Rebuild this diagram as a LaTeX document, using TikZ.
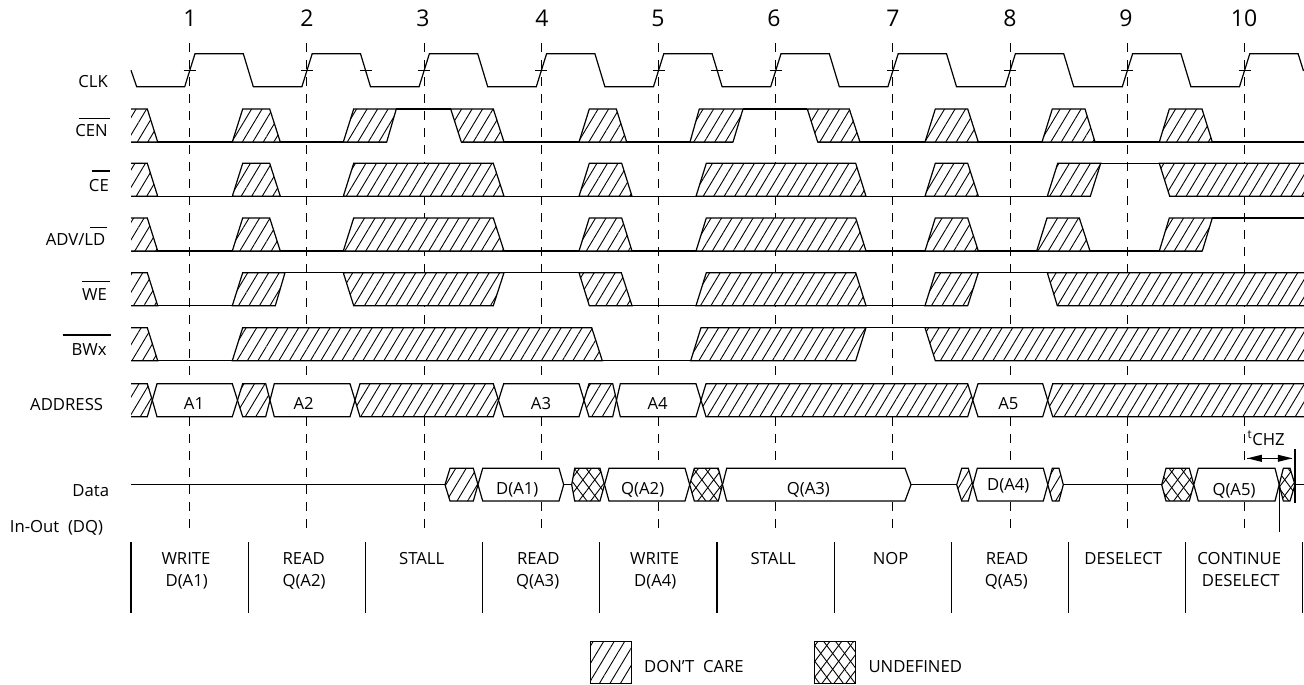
\documentclass[tikz,border=0pt]{standalone}
\usepackage{fontspec}
\setmainfont{Open Sans}
\usetikzlibrary{patterns.meta}

\begin{document}
\begin{tikzpicture}[x=1pt,y=1pt]
	\tikzstyle{every node}+=[inner sep=0pt,font=\fontsize{16.7}{18}\selectfont]
	\tikzstyle{wire}=[black,line width=1.2pt]
	\tikzstyle{edgeline}=[black,line width=1pt,dash pattern=on 9pt off 8pt]
	\tikzstyle{dontcare}=[wire,preaction={fill=white},pattern={Lines[angle=59,distance=9pt,line width=0.9pt]}]
	\tikzstyle{undefinedbox}=[wire,preaction={fill=white},pattern={Lines[angle=53,distance=9.5pt,line width=0.9pt]},postaction={pattern={Lines[angle=127,distance=9.5pt,line width=0.9pt]}}]
	\tikzstyle{validbox}=[wire,fill=white]
	\tikzstyle{cyclenum}=[anchor=base,font=\fontsize{23}{25}\selectfont]
	\tikzstyle{signame}=[anchor=base east]
	\tikzstyle{boxtext}=[anchor=base]
	\tikzstyle{optext}=[anchor=base]
	\useasboundingbox (0,0) rectangle (1304,-685);
	% clock edges
	\draw [edgeline] (189.7,-43.3) -- (189.7,-530.7);
	\draw [edgeline] (306.9,-43.3) -- (306.9,-530.7);
	\draw [edgeline] (424.1,-43.3) -- (424.1,-530.7);
	\draw [edgeline] (541.3,-43.3) -- (541.3,-530.7);
	\draw [edgeline] (658.5,-43.3) -- (658.5,-530.7);
	\draw [edgeline] (775.7,-43.3) -- (775.7,-530.7);
	\draw [edgeline] (892.9,-43.3) -- (892.9,-530.7);
	\draw [edgeline] (1010.1,-43.3) -- (1010.1,-530.7);
	\draw [edgeline] (1127.3,-43.3) -- (1127.3,-530.7);
	\draw [edgeline] (1244.5,-43.3) -- (1244.5,-530.7);
	\node [cyclenum] (num1) at (190,-26.7) {1};
	\node [cyclenum] (num2) at (307,-26.7) {2};
	\node [cyclenum] (num3) at (423,-26.7) {3};
	\node [cyclenum] (num4) at (542,-26.7) {4};
	\node [cyclenum] (num5) at (658,-26.7) {5};
	\node [cyclenum] (num6) at (774,-26.7) {6};
	\node [cyclenum] (num7) at (893,-26.7) {7};
	\node [cyclenum] (num8) at (1010,-26.7) {8};
	\node [cyclenum] (num9) at (1126,-26.7) {9};
	\node [cyclenum] (num10) at (1244,-26.7) {10};
	% CLK
	\draw [wire] (131,-70.3) -- (136.7,-86.7) -- (184.7,-86.7) -- (195,-53.7) -- (243.3,-53.7) -- (253.3,-86.7)
		-- (301.9,-86.7) -- (312.2,-53.7) -- (360.5,-53.7) -- (370.5,-86.7)
		-- (419.1,-86.7) -- (429.4,-53.7) -- (477.7,-53.7) -- (487.7,-86.7)
		-- (536.3,-86.7) -- (546.6,-53.7) -- (594.9,-53.7) -- (604.9,-86.7)
		-- (653.5,-86.7) -- (663.8,-53.7) -- (712.1,-53.7) -- (722.1,-86.7)
		-- (770.7,-86.7) -- (781,-53.7) -- (829.3,-53.7) -- (839.3,-86.7)
		-- (887.9,-86.7) -- (898.2,-53.7) -- (946.5,-53.7) -- (956.5,-86.7)
		-- (1005.1,-86.7) -- (1015.4,-53.7) -- (1063.7,-53.7) -- (1073.7,-86.7)
		-- (1122.3,-86.7) -- (1132.6,-53.7) -- (1180.9,-53.7) -- (1190.9,-86.7)
		-- (1239.5,-86.7) -- (1249.8,-53.7) -- (1298.1,-53.7) -- (1303.5,-71);
	\draw [wire] (183.7,-70.3) -- (195.7,-70.3);
	\draw [wire] (300.9,-70.3) -- (312.9,-70.3);
	\draw [wire] (359.5,-70.3) -- (371.5,-70.3);
	\draw [wire] (418.1,-70.3) -- (430.1,-70.3);
	\draw [wire] (535.3,-70.3) -- (547.3,-70.3);
	\draw [wire] (652.5,-70.3) -- (664.5,-70.3);
	\draw [wire] (711.1,-70.3) -- (723.1,-70.3);
	\draw [wire] (769.7,-70.3) -- (781.7,-70.3);
	\draw [wire] (886.9,-70.3) -- (898.9,-70.3);
	\draw [wire] (1004.1,-70.3) -- (1016.1,-70.3);
	\draw [wire] (1121.3,-70.3) -- (1133.3,-70.3);
	\draw [wire] (1238.5,-70.3) -- (1250.5,-70.3);
	\node [signame] (lclk) at (108,-87.3) {CLK};
	% CEN
	\draw [wire] (131,-142) -- (386.7,-142);
	\draw [wire] (461.3,-142) -- (733,-142);
	\draw [wire] (817.7,-142) -- (1304,-142);
	\draw [wire] (396.3,-109) -- (450.7,-109);
	\draw [wire] (743,-109) -- (807.3,-109);
	\draw [dontcare] (131,-109) -- (147.3,-109) -- (157.7,-142) -- (131,-142);
	\draw [dontcare] (232.3,-142) -- (242.7,-109) -- (269.7,-109) -- (280.3,-142) -- cycle;
	\draw [dontcare] (343.3,-142) -- (353.7,-109) -- (396.3,-109) -- (386.7,-142) -- cycle;
	\draw [dontcare] (450.7,-109) -- (493.3,-109) -- (504,-142) -- (461.3,-142) -- cycle;
	\draw [dontcare] (579,-142) -- (589.3,-109) -- (616.3,-109) -- (626.7,-142) -- cycle;
	\draw [dontcare] (690,-142) -- (699.3,-109) -- (743,-109) -- (733,-142) -- cycle;
	\draw [dontcare] (807.3,-109) -- (849.3,-109) -- (860,-142) -- (817.7,-142) -- cycle;
	\draw [dontcare] (925,-142) -- (935.3,-109) -- (967.7,-109) -- (978.3,-142) -- cycle;
	\draw [dontcare] (1042,-142) -- (1052.3,-109) -- (1085,-109) -- (1095,-142) -- cycle;
	\draw [dontcare] (1159.3,-142) -- (1169.3,-109) -- (1202,-109) -- (1212.3,-142) -- cycle;
	\node [signame] (lcen) at (108,-136.7) {CEN};
	\draw [wire] (78.7,-118.3) -- (109.7,-118.3);
	% CE
	\draw [wire] (131,-196.3) -- (1090.3,-196.3);
	\draw [wire] (1100.7,-163.3) -- (1159.3,-163.3);
	\draw [dontcare] (131,-163.3) -- (147.3,-163.3) -- (157.7,-196.3) -- (131,-196.3);
	\draw [dontcare] (232.3,-196.3) -- (242.7,-163.3) -- (269.7,-163.3) -- (280.3,-196.3) -- cycle;
	\draw [dontcare] (343.3,-196.3) -- (353.7,-163.3) -- (493.3,-163.3) -- (504,-196.3) -- cycle;
	\draw [dontcare] (579,-196.3) -- (589.3,-163.3) -- (621.7,-163.3) -- (632,-196.3) -- cycle;
	\draw [dontcare] (696,-196.3) -- (706.3,-163.3) -- (855.7,-163.3) -- (866,-196.3) -- cycle;
	\draw [dontcare] (925,-196.3) -- (935.3,-163.3) -- (967.7,-163.3) -- (978.3,-196.3) -- cycle;
	\draw [dontcare] (1047.3,-196.3) -- (1057.7,-163.3) -- (1100.7,-163.3) -- (1090.3,-196.3) -- cycle;
	\draw [dontcare] (1304,-163.3) -- (1159.3,-163.3) -- (1169.7,-196.3) -- (1304,-196.3);
	\node [signame] (lce) at (109,-191) {CE};
	\draw [wire] (91.7,-171) -- (110.3,-171);
	% ADV/LD
	\draw [wire] (131,-251) -- (1202.3,-251);
	\draw [wire] (1212.3,-218) -- (1304,-218);
	\draw [dontcare] (131,-218) -- (147.3,-218) -- (157.7,-251) -- (131,-251);
	\draw [dontcare] (232.3,-251) -- (242.7,-218) -- (269.7,-218) -- (280.3,-251) -- cycle;
	\draw [dontcare] (343.3,-251) -- (353.7,-218) -- (493.3,-218) -- (504,-251) -- cycle;
	\draw [dontcare] (579,-251) -- (589.3,-218) -- (621.7,-218) -- (632,-251) -- cycle;
	\draw [dontcare] (696,-251) -- (706.3,-218) -- (855.7,-218) -- (866,-251) -- cycle;
	\draw [dontcare] (925,-251) -- (935.3,-218) -- (967.7,-218) -- (978.3,-251) -- cycle;
	\draw [dontcare] (1036.7,-251) -- (1047,-218) -- (1079.3,-218) -- (1090,-251) -- cycle;
	\draw [dontcare] (1159.3,-251) -- (1169.3,-218) -- (1212.3,-218) -- (1202.3,-251) -- cycle;
	\node [signame] (ladv) at (105.5,-245.7) {ADV/LD};
	\draw [wire] (90,-227.3) -- (107.3,-227.3);
	% WE
	\draw [wire] (131,-305.7) -- (275.3,-305.7);
	\draw [wire] (285,-272.7) -- (343.3,-272.7);
	\draw [wire] (504,-272.7) -- (579,-272.7);
	\draw [wire] (589.3,-305.7) -- (967.7,-305.7);
	\draw [wire] (978.3,-272.7) -- (1047.3,-272.7);
	\draw [dontcare] (131,-272.7) -- (147.3,-272.7) -- (157.7,-305.7) -- (131,-305.7);
	\draw [dontcare] (232.3,-305.7) -- (242.7,-272.7) -- (285,-272.7) -- (275.3,-305.7) -- cycle;
	\draw [dontcare] (343.3,-272.7) -- (504,-272.7) -- (493.3,-305.7) -- (353.7,-305.7) -- cycle;
	\draw [dontcare] (579,-272.7) -- (621.3,-272.7) -- (632,-305.7) -- (589.3,-305.7) -- cycle;
	\draw [dontcare] (696,-305.7) -- (706.3,-272.7) -- (855.7,-272.7) -- (866,-305.7) -- cycle;
	\draw [dontcare] (925,-305.7) -- (935.3,-272.7) -- (978.3,-272.7) -- (967.7,-305.7) -- cycle;
	\draw [dontcare] (1304,-272.7) -- (1047.3,-272.7) -- (1057.3,-305.7) -- (1304,-305.7);
	\node [signame] (lwe) at (107,-300) {WE};
	\draw [wire] (82.3,-281.3) -- (110,-281.3);
	% BWx
	\draw [wire] (131,-360.7) -- (232.3,-360.7);
	\draw [wire] (602.3,-360.7) -- (690.7,-360.7);
	\draw [wire] (866,-327.7) -- (925,-327.7);
	\draw [dontcare] (131,-327.7) -- (147.3,-327.7) -- (157.7,-360.7) -- (131,-360.7);
	\draw [dontcare] (232.3,-360.7) -- (242.7,-327.7) -- (591.7,-327.7) -- (602.3,-360.7) -- cycle;
	\draw [dontcare] (690.7,-360.7) -- (701,-327.7) -- (866,-327.7) -- (855.7,-360.7) -- cycle;
	\draw [dontcare] (1304,-327.7) -- (925,-327.7) -- (935.3,-360.7) -- (1304,-360.7);
	\node [signame] (lbwx) at (106.7,-355) {BWx};
	\draw [wire,line width=1.4pt] (62.7,-335) -- (111,-335);
	% ADDRESS
	\draw [dontcare] (131,-383.7) -- (147.3,-383.7) -- (152.3,-400.2) -- (147.3,-416.7) -- (131,-416.7);
	\draw [validbox] (152.3,-400.2) -- (157,-383.7) -- (232.3,-383.7) -- (237.5,-400.2) -- (232.3,-416.7) -- (157,-416.7) -- cycle;
	\draw [dontcare] (237.5,-400.2) -- (242.7,-383.7) -- (265.7,-383.7) -- (270,-400.2) -- (265.7,-416.7) -- (242.7,-416.7) -- cycle;
	\draw [validbox] (270,-400.2) -- (274.3,-383.7) -- (350,-383.7) -- (355,-400.2) -- (350,-416.7) -- (274.3,-416.7) -- cycle;
	\draw [dontcare] (355,-400.2) -- (360,-383.7) -- (493.3,-383.7) -- (498.5,-400.2) -- (493.3,-416.7) -- (360,-416.7) -- cycle;
	\draw [validbox] (498.5,-400.2) -- (503.7,-383.7) -- (579,-383.7) -- (584,-400.2) -- (579,-416.7) -- (503.7,-416.7) -- cycle;
	\draw [dontcare] (584,-400.2) -- (589,-383.7) -- (612.7,-383.7) -- (616.5,-400.2) -- (612.7,-416.7) -- (589,-416.7) -- cycle;
	\draw [validbox] (616.5,-400.2) -- (620.3,-383.7) -- (696,-383.7) -- (701,-400.2) -- (696,-416.7) -- (620.3,-416.7) -- cycle;
	\draw [dontcare] (701,-400.2) -- (706,-383.7) -- (967.7,-383.7) -- (972.8,-400.2) -- (967.7,-416.7) -- (706,-416.7) -- cycle;
	\draw [validbox] (972.8,-400.2) -- (978,-383.7) -- (1042.7,-383.7) -- (1047.7,-400.2) -- (1042.7,-416.7) -- (978,-416.7) -- cycle;
	\draw [dontcare] (1304,-383.7) -- (1052.7,-383.7) -- (1047.7,-400.2) -- (1052.7,-416.7) -- (1304,-416.7);
	\node [signame] (laddr) at (103.3,-410.7) {ADDRESS};
	\node [boxtext] (ba1) at (194,-409) {A1};
	\node [boxtext] (ba2) at (303.7,-409) {A2};
	\node [boxtext] (ba3) at (541,-409) {A3};
	\node [boxtext] (ba4) at (657.7,-409) {A4};
	\node [boxtext] (ba5) at (1008.3,-409) {A5};
	% Data
	\draw [wire] (131,-484.7) -- (445,-484.7);
	\draw [wire] (563.7,-484.7) -- (571.7,-484.7);
	\draw [wire] (911,-484.7) -- (956.7,-484.7);
	\draw [wire] (1063.3,-484.7) -- (1161.7,-484.7);
	\draw [wire] (1295,-484.7) -- (1304,-484.7);
	\draw [dontcare] (445,-484.7) -- (450,-468.3) -- (473.3,-468.3) -- (478,-484.7) -- (473.3,-501) -- (450,-501) -- cycle;
	\draw [validbox] (478,-484.7) -- (482.7,-468.3) -- (559,-468.3) -- (563.7,-484.7) -- (559,-501) -- (482.7,-501) -- cycle;
	\draw [undefinedbox] (571.7,-484.7) -- (574.7,-468.3) -- (600,-468.3) -- (604.5,-484.7) -- (600,-501) -- (574.7,-501) -- cycle;
	\draw [validbox] (604.5,-484.7) -- (609,-468.3) -- (685,-468.3) -- (689.7,-484.7) -- (685,-501) -- (609,-501) -- cycle;
	\draw [undefinedbox] (689.7,-484.7) -- (694.3,-468.3) -- (718.3,-468.3) -- (722.5,-484.7) -- (718.3,-501) -- (694.3,-501) -- cycle;
	\draw [validbox] (722.5,-484.7) -- (726.7,-468.3) -- (905,-468.3) -- (911,-484.7) -- (905,-501) -- (726.7,-501) -- cycle;
	\draw [dontcare] (956.7,-484.7) -- (961.7,-468.3) -- (968.3,-468.3) -- (972.8,-484.7) -- (968.3,-501) -- (961.7,-501) -- cycle;
	\draw [validbox] (972.8,-484.7) -- (977.3,-468.3) -- (1043.3,-468.3) -- (1047.8,-484.7) -- (1043.3,-501) -- (977.3,-501) -- cycle;
	\draw [dontcare] (1047.8,-484.7) -- (1052.3,-468.3) -- (1059,-468.3) -- (1063.3,-484.7) -- (1059,-501) -- (1052.3,-501) -- cycle;
	\draw [undefinedbox] (1161.7,-484.7) -- (1166,-468.3) -- (1189.3,-468.3) -- (1193.8,-484.7) -- (1189.3,-501) -- (1166,-501) -- cycle;
	\draw [validbox] (1193.8,-484.7) -- (1198.3,-468.3) -- (1275,-468.3) -- (1279.2,-484.7) -- (1275,-501) -- (1198.3,-501) -- cycle;
	\draw [undefinedbox] (1279.2,-484.7) -- (1283.3,-468.3) -- (1290,-468.3) -- (1295,-484.7) -- (1290,-501) -- (1283.3,-501) -- cycle;
	\node [signame] (ldata) at (109.3,-496) {Data};
	\node [signame] (linout) at (103.3,-532.7) {In-Out\ \ (DQ)};
	\node [boxtext] (bd1) at (517.3,-494) {D(A1)};
	\node [boxtext] (bq2) at (642.7,-494) {Q(A2)};
	\node [boxtext] (bq3) at (808.3,-494) {Q(A3)};
	\node [boxtext] (bd4) at (1008.3,-490.7) {D(A4)};
	\node [boxtext] (bq5) at (1234,-495) {Q(A5)};
	% tCHZ
	\coordinate (chzleft) at (1247.3,-458.3);
	\coordinate (chzright) at (1292.3,-458.3);
	\draw [wire] (chzleft) -- (chzright);
	\fill [black] (chzleft) -- +(14.5,3.6) -- +(14.5,-3.6);
	\fill [black] (chzright) -- +(-14.5,3.6) -- +(-14.5,-3.6);
	\draw [wire] (1295,-449) -- (1295,-502.7);
	\draw [wire] (1279.2,-484.7) -- (1279.2,-531.7);
	\node [anchor=base west] (ltchz) at (1247.5,-445) {\textsuperscript{t}CHZ};
	% operations
	\draw [wire] (131,-542) -- (131,-612.7);
	\draw [wire] (248.3,-542) -- (248.3,-612.7);
	\draw [wire] (365.7,-542) -- (365.7,-612.7);
	\draw [wire] (482.7,-542) -- (482.7,-612.7);
	\draw [wire] (599.7,-542) -- (599.7,-612.7);
	\draw [wire] (717,-542) -- (717,-612.7);
	\draw [wire] (834.3,-542) -- (834.3,-612.7);
	\draw [wire] (951.3,-542) -- (951.3,-612.7);
	\draw [wire] (1068.7,-542) -- (1068.7,-612.7);
	\draw [wire] (1185.7,-542) -- (1185.7,-612.7);
	\draw [wire] (1302.7,-542) -- (1302.7,-612.7);
	\node [optext] (opa) at (186,-564) {WRITE};
	\node [optext] (opb) at (186.7,-586) {D(A1)};
	\node [optext] (opc) at (303.7,-564) {READ};
	\node [optext] (opd) at (304,-586) {Q(A2)};
	\node [optext] (ope) at (421.7,-564) {STALL};
	\node [optext] (opf) at (538.3,-564) {READ};
	\node [optext] (opg) at (537.7,-586) {Q(A3)};
	\node [optext] (oph) at (654.7,-564) {WRITE};
	\node [optext] (opi) at (655.3,-586) {D(A4)};
	\node [optext] (opj) at (773.3,-564) {STALL};
	\node [optext] (opk) at (890.7,-564) {NOP};
	\node [optext] (opl) at (1007,-564) {READ};
	\node [optext] (opm) at (1006.3,-586) {Q(A5)};
	\node [optext] (opn) at (1123.3,-564) {DESELECT};
	\node [optext] (opo) at (1239.3,-564) {CONTINUE};
	\node [optext] (opp) at (1240.7,-586) {DESELECT};
	% legend
	\draw [dontcare] (590.7,-641.7) rectangle (631.7,-683.3);
	\node [anchor=base west] (ldc) at (644,-672.7) {DON’T\ \ CARE};
	\draw [undefinedbox] (814.3,-641.7) rectangle (855.3,-683.3);
	\node [anchor=base west] (lun) at (868.3,-672.7) {UNDEFINED};
\end{tikzpicture}
\end{document}
